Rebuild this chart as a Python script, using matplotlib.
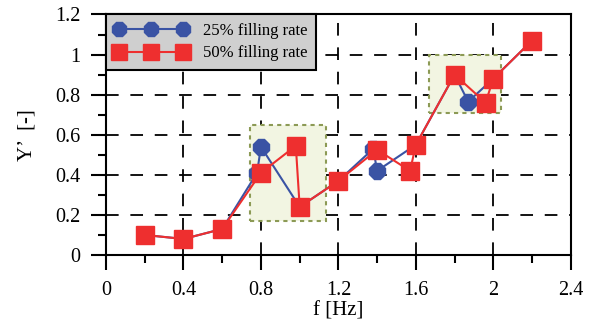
import matplotlib
matplotlib.use("Agg")
import matplotlib.pyplot as plt
from matplotlib.patches import Rectangle
from matplotlib.ticker import MultipleLocator, FuncFormatter

plt.rcParams['font.family'] = ['Liberation Serif', 'DejaVu Serif']

f25 = [0.2, 0.4, 0.6, 0.78, 0.8, 1.0, 1.2, 1.38, 1.4, 1.6, 1.8, 1.87, 2.0, 2.2]
y25 = [0.10, 0.08, 0.13, 0.41, 0.54, 0.24, 0.37, 0.53, 0.42, 0.55, 0.90, 0.765, 0.88, 1.07]
f50 = [0.2, 0.4, 0.6, 0.8, 0.98, 1.0, 1.2, 1.4, 1.57, 1.6, 1.8, 1.96, 2.0, 2.2]
y50 = [0.10, 0.08, 0.13, 0.41, 0.545, 0.24, 0.37, 0.525, 0.42, 0.55, 0.90, 0.76, 0.88, 1.07]
labels = ['25% filling rate', '50% filling rate']
boxes = [(0.745, 0.17, 0.39, 0.48), (1.67, 0.71, 0.37, 0.29)]

fig = plt.figure(figsize=(5.97, 3.31), dpi=100)
ax = fig.add_axes([0.1776, 0.2296, 0.7785, 0.7266])

for (x0, y0, w, h) in boxes:
    ax.add_patch(Rectangle((x0, y0), w, h, facecolor='#f2f5e2', edgecolor='#8c9a55',
                           linestyle=(0, (2, 2)), linewidth=1.5, zorder=1))

ax.plot(f25, y25, color='#3a53a4', marker='8', markersize=12, linewidth=1.5,
        label=labels[0], zorder=3)
ax.plot(f50, y50, color='#ee2f2f', marker='s', markersize=12.5, linewidth=1.5,
        label=labels[1], zorder=4)

ax.set_xlim(0, 2.4)
ax.set_ylim(0, 1.2)
ax.xaxis.set_major_locator(MultipleLocator(0.4))
ax.xaxis.set_minor_locator(MultipleLocator(0.2))
ax.yaxis.set_major_locator(MultipleLocator(0.2))
ax.yaxis.set_minor_locator(MultipleLocator(0.1))
fmt = FuncFormatter(lambda v, p: '%g' % round(v, 2))
ax.xaxis.set_major_formatter(fmt)
ax.yaxis.set_major_formatter(fmt)

ax.grid(True, which='major', color='black', linestyle=(0, (7, 6.5)), linewidth=1.3, zorder=0)
ax.set_axisbelow(True)
for s in ax.spines.values():
    s.set_linewidth(1.5)
ax.tick_params(which='major', direction='out', length=10.5, width=1.5, labelsize=14.5,
               pad=8, top=False, right=False)
ax.tick_params(which='minor', direction='out', length=5.5, width=1.5, top=False, right=False)

ax.set_xlabel('f [Hz]', fontsize=15, labelpad=1)
ax.set_ylabel('Y’  [-]', fontsize=15, labelpad=13)

leg = ax.legend(loc='upper left', numpoints=3, fontsize=12, frameon=True, fancybox=False,
                borderaxespad=0, handlelength=4.4, handletextpad=0.9, borderpad=0.5,
                labelspacing=0.4, markerscale=0.9)
leg.get_frame().set_facecolor('#cfcfcf')
leg.get_frame().set_edgecolor('black')
leg.get_frame().set_linewidth(1.5)
leg.get_frame().set_alpha(1)
leg.set_zorder(10)

fig.savefig('out.png', dpi=100)
